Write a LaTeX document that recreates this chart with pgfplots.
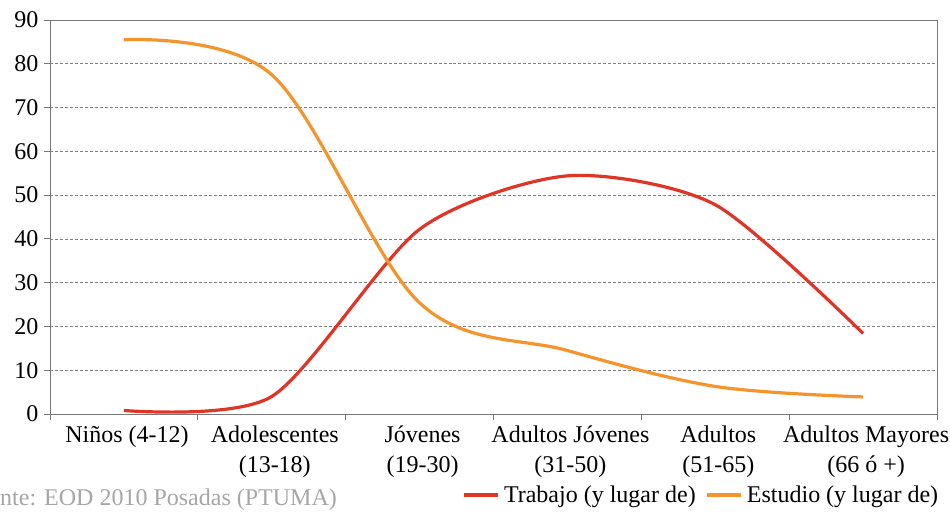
\documentclass[border=0pt]{standalone}
\usepackage{pgfplots}
\pgfplotsset{compat=1.18}
\usepackage{fontspec}
\setmainfont{Liberation Serif}
\definecolor{trab}{RGB}{224,52,38}
\definecolor{estu}{RGB}{243,148,45}
\definecolor{axgray}{RGB}{120,120,120}
\begin{document}
\begin{tikzpicture}[x=1bp,y=1bp]
\useasboundingbox (-50,-99) rectangle (900,414);
\begin{axis}[
  at={(0,0)}, anchor=south west,
  scale only axis, width=887bp, height=394bp,
  xmin=0, xmax=6, ymin=0, ymax=90,
  xtick={0.5,1.5,2.5,3.5,4.5,5.5},
  xticklabels={{Niños (4-12)},{Adolescentes\\(13-18)},{Jóvenes\\(19-30)},{Adultos Jóvenes\\(31-50)},{Adultos\\(51-65)},{Adultos Mayores\\(66 ó +)}},
  minor xtick={0,1,2,3,4,5,6},
  ytick={0,10,...,90},
  ymajorgrids,
  major grid style={densely dashed, gray, line width=0.6bp},
  axis line style={axgray, line width=0.8bp},
  every tick/.style={axgray, line width=0.8bp},
  tick align=outside, tick pos=left,
  major tick length=6bp,
  xtick style={draw=none},
  minor tick length=6bp,
  minor x tick style={axgray, line width=0.8bp, draw=axgray},
  x tick label style={align=center, font=\fontsize{24bp}{30bp}\selectfont, anchor=north},
  xticklabel style={yshift=-2bp, xshift=3bp},
  y tick label style={font=\fontsize{24bp}{28bp}\selectfont},
  yticklabel style={xshift=-2bp},
  /pgf/number format/assume math mode=true,
  legend columns=2,
  legend style={draw=none, fill=none, at={(axis description cs:0.7345,-0.2056)}, anchor=center,
    font=\fontsize{24bp}{28bp}\selectfont, column sep=2bp, /tikz/every even column/.append style={column sep=8bp}},
  legend image code/.code={\draw[#1] (0bp,0bp) -- (34bp,0bp);},
]
\addplot[trab, line width=3.2bp, smooth, tension=0.45] coordinates {
  (0.5,0.8) (1.5,4.0) (2.5,42.2) (3.5,54.4) (4.5,47.8) (5.5,18.4)};
\addlegendentry{Trabajo (y lugar de)}
\addplot[estu, line width=3.2bp, smooth, tension=0.55] coordinates {
  (0.5,85.5) (1.5,77.5) (2.5,25.4) (3.5,14.5) (4.5,6.3) (5.5,3.9)};
\addlegendentry{Estudio (y lugar de)}
\end{axis}
\node[anchor=west, text=gray!70, font=\fontsize{24bp}{28bp}\selectfont, inner sep=0pt] at (-50,-86) {nte: EOD 2010 Posadas (PTUMA)};
\end{tikzpicture}
\end{document}
